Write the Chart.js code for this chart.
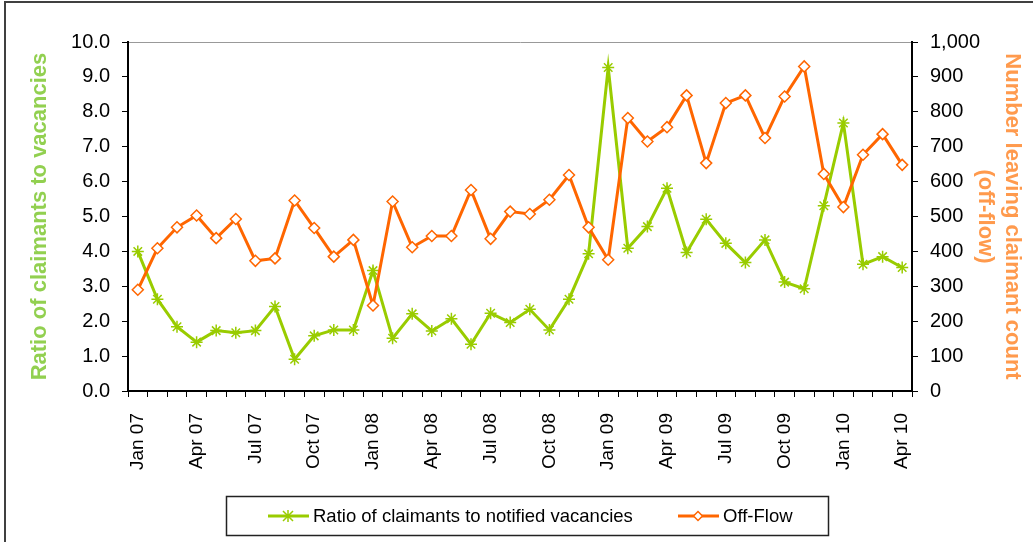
<!DOCTYPE html>
<html>
<head>
<meta charset="utf-8">
<script src="https://cdn.jsdelivr.net/npm/chart.js@4/dist/chart.umd.min.js"></script>
<style>
  html, body { margin: 0; padding: 0; background: #fff; }
  #wrap { width: 1033px; height: 542px; position: relative; }
</style>
</head>
<body>
<div id="wrap"><canvas id="myChart" width="1033" height="542"></canvas></div>
<script>
const months = [
  "Jan 07","Feb 07","Mar 07","Apr 07","May 07","Jun 07","Jul 07","Aug 07","Sep 07","Oct 07","Nov 07","Dec 07",
  "Jan 08","Feb 08","Mar 08","Apr 08","May 08","Jun 08","Jul 08","Aug 08","Sep 08","Oct 08","Nov 08","Dec 08",
  "Jan 09","Feb 09","Mar 09","Apr 09","May 09","Jun 09","Jul 09","Aug 09","Sep 09","Oct 09","Nov 09","Dec 09",
  "Jan 10","Feb 10","Mar 10","Apr 10"
];

// claimants per notified vacancy (left axis)
const ratio = [
  4.0, 2.63, 1.84, 1.40, 1.73, 1.67, 1.73, 2.42, 0.91, 1.58, 1.75, 1.75,
  3.45, 1.51, 2.21, 1.72, 2.07, 1.34, 2.23, 1.96, 2.34, 1.75, 2.63, 3.93,
  9.27, 4.09, 4.71, 5.81, 3.97, 4.92, 4.23, 3.68, 4.33, 3.12, 2.93, 5.31,
  7.68, 3.63, 3.85, 3.54
];

// off-flow count (right axis)
const offFlow = [
  290, 409, 469, 503, 438, 493, 373, 380, 546, 467, 385, 433,
  245, 543, 412, 444, 444, 576, 436, 514, 507, 548, 619, 469,
  376, 782, 715, 756, 847, 653, 825, 847, 725, 844, 930, 622,
  527, 677, 736, 648
];

const seriesNames = ["Ratio of claimants to notified vacancies", "Off-Flow"];
const leftTitle = "Ratio of claimants to vacancies";
const rightTitle = ["Number leaving claimant count", "(off-flow)"];

const green = '#99CC00';
const orange = '#FF6600';
const FONT = 'Liberation Sans, Arial, sans-serif';

// frame + boxed legend drawn after the chart
const boxLegend = {
  id: 'boxLegend',
  afterDraw(chart) {
    const ctx = chart.ctx;
    ctx.save();
    // outer frame
    ctx.strokeStyle = '#404040';
    ctx.lineWidth = 2;
    ctx.beginPath();
    ctx.moveTo(5, 542);
    ctx.lineTo(5, 2);
    ctx.lineTo(1033, 2);
    ctx.stroke();

    // legend box
    ctx.strokeStyle = '#222';
    ctx.lineWidth = 1.5;
    ctx.strokeRect(226.5, 496.5, 602, 39);

    const y = 516;
    const items = [{x: 268, ds: chart.data.datasets[0]}, {x: 678, ds: chart.data.datasets[1]}];
    items.forEach(function(it) {
      const ds = it.ds;
      ctx.strokeStyle = ds.borderColor;
      ctx.lineWidth = 3;
      ctx.beginPath();
      ctx.moveTo(it.x, y);
      ctx.lineTo(it.x + 41, y);
      ctx.stroke();
      const cx = it.x + 20;
      ctx.lineWidth = 1.5;
      if (ds.pointStyle === 'star') {
        const r = 5;
        ctx.beginPath();
        ctx.moveTo(cx - r, y - r); ctx.lineTo(cx + r, y + r);
        ctx.moveTo(cx + r, y - r); ctx.lineTo(cx - r, y + r);
        ctx.moveTo(cx, y - r - 1); ctx.lineTo(cx, y + r + 1);
        ctx.stroke();
      } else {
        const r = 4.5;
        ctx.fillStyle = '#fff';
        ctx.beginPath();
        ctx.moveTo(cx, y - r); ctx.lineTo(cx + r, y); ctx.lineTo(cx, y + r); ctx.lineTo(cx - r, y);
        ctx.closePath();
        ctx.fill();
        ctx.stroke();
      }
      ctx.fillStyle = '#000';
      ctx.font = '18.5px ' + FONT;
      ctx.textBaseline = 'middle';
      ctx.textAlign = 'left';
      ctx.fillText(ds.label, it.x + 45, y + 1);
    });
    ctx.restore();
  }
};

const data = {
  labels: months,
  datasets: [
    {
      label: seriesNames[0],
      data: ratio,
      yAxisID: 'y',
      borderColor: green,
      backgroundColor: green,
      borderWidth: 3,
      pointStyle: 'star',
      pointRadius: 6,
      pointBorderWidth: 1.5,
      pointBorderColor: green,
      order: 2
    },
    {
      label: seriesNames[1],
      data: offFlow,
      yAxisID: 'y1',
      borderColor: orange,
      backgroundColor: orange,
      borderWidth: 3,
      pointStyle: 'rectRot',
      pointRadius: 5.5,
      pointBorderWidth: 1.5,
      pointBorderColor: orange,
      pointBackgroundColor: '#fff',
      order: 1
    }
  ]
};

const config = {
  type: 'line',
  data: data,
  options: {
    responsive: false,
    animation: false,
    layout: { padding: { top: 42, bottom: 51, left: 0, right: 0 } },
    plugins: {
      legend: { display: false },
      tooltip: { enabled: false }
    },
    scales: {
      x: {
        offset: true,
        afterFit(scale) { scale.height = 100; },
        grid: { offset: true, drawOnChartArea: false, tickLength: 6, color: '#000', lineWidth: 1 },
        border: { color: '#000', width: 2 },
        ticks: {
          autoSkip: false,
          minRotation: 90,
          maxRotation: 90,
          padding: 16,
          color: '#000',
          font: { family: FONT, size: 19 },
          callback: function(v, i) { return i % 3 === 0 ? months[i] : ''; }
        }
      },
      y: {
        position: 'left',
        min: 0,
        max: 10,
        afterFit(scale) { scale.width = 128; },
        grid: {
          drawOnChartArea: true,
          color: function(c) { return c.tick && c.tick.value === 10 ? '#999' : 'rgba(0,0,0,0)'; },
          tickColor: '#000',
          tickLength: 6
        },
        border: { color: '#000', width: 2 },
        ticks: {
          stepSize: 1,
          padding: 12,
          color: '#000',
          font: { family: FONT, size: 20 },
          callback: function(v) { return v.toFixed(1); }
        },
        title: {
          display: true,
          text: leftTitle,
          color: '#92D050',
          font: { family: FONT, size: 22, weight: 'bold', lineHeight: 1.23 },
          padding: { top: 26, bottom: 0 }
        }
      },
      y1: {
        position: 'right',
        min: 0,
        max: 1000,
        afterFit(scale) { scale.width = 121; },
        grid: { drawOnChartArea: false, color: '#000', tickLength: 6 },
        border: { color: '#000', width: 2 },
        ticks: {
          stepSize: 100,
          padding: 12,
          color: '#000',
          font: { family: FONT, size: 20 },
          callback: function(v) { return v.toLocaleString('en-US'); }
        },
        title: {
          display: true,
          text: rightTitle,
          color: '#FF9A4D',
          font: { family: FONT, size: 22, weight: 'bold', lineHeight: 1.23 },
          padding: { top: 7, bottom: 0 }
        }
      }
    }
  },
  plugins: [boxLegend]
};

const myChart = new Chart(document.getElementById('myChart'), config);
</script>
</body>
</html>
